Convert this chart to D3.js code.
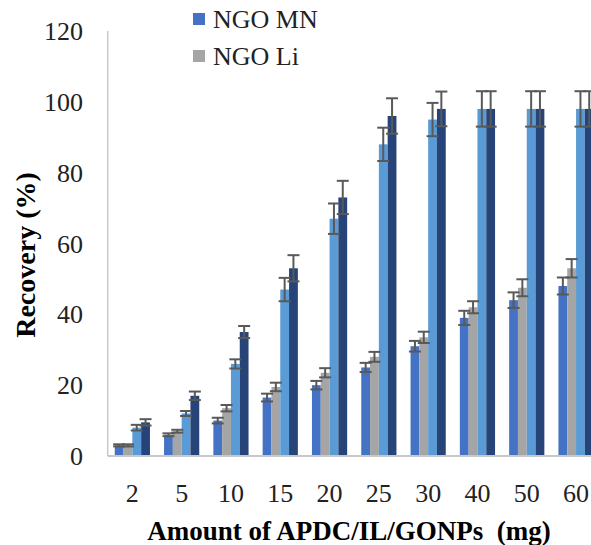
<!DOCTYPE html>
<html>
<head>
<meta charset="utf-8">
<script src="https://d3js.org/d3.v7.min.js"></script>
</head>
<body style="margin:0">
<svg id="chart" width="591" height="545"></svg>
<script>
// values
const categories = ["2", "5", "10", "15", "20", "25", "30", "40", "50", "60"];
const ngoMN   = [3, 6, 10, 16.5, 20, 25, 31, 39, 44, 48];
const ngoLi   = [3, 7, 13.5, 19.5, 23.5, 28, 33.5, 42, 47.5, 53];
const series3 = [8, 12, 26, 47, 67, 88, 95, 98, 98, 98];
const series4 = [9.5, 17, 35, 53, 73, 96, 98, 98, 98, 98];
const errMN   = [0.3, 0.4, 0.8, 1.1, 1.2, 1.3, 1.5, 2, 2.2, 2.4];
const errLi   = [0.3, 0.4, 0.9, 1.2, 1.3, 1.4, 1.6, 1.7, 2.4, 2.6];
const err3    = [0.8, 0.7, 1.3, 3.3, 4.3, 4.7, 4.7, 5, 5, 5];
const err4    = [0.9, 1.2, 1.7, 3.7, 4.7, 5, 4.9, 5, 5, 5];
const yTicks  = [0, 20, 40, 60, 80, 100, 120];
const legendNames = ["NGO MN", "NGO Li"];

const colors = ["#4472C4", "#A5A5A5", "#5B9BD5", "#264478"];
const allSeries = [ngoMN, ngoLi, series3, series4];
const allErr = [errMN, errLi, err3, err4];

const FONT = "'Liberation Serif', monospace";
const width = 591;
const svg = d3.select("#chart");

const x0 = 107.7, yTop = 31, yBase = 456;
const bandW = 49.3;

const x = d3.scaleBand()
  .domain(categories)
  .range([x0, x0 + bandW * categories.length])
  .paddingInner(0).paddingOuter(0);

const barW = 8.8;
const xs = d3.scaleBand()
  .domain(d3.range(4))
  .range([(bandW - barW * 4) / 2, (bandW + barW * 4) / 2]);

const y = d3.scaleLinear().domain([0, 120]).range([yBase, yTop]);

// y axis line
svg.append("line")
  .attr("x1", x0).attr("x2", x0)
  .attr("y1", yTop).attr("y2", yBase)
  .attr("stroke", "#C8C8C8").attr("stroke-width", 1.5);

// bars
allSeries.forEach((vals, s) => {
  svg.append("g")
    .selectAll("rect")
    .data(vals)
    .join("rect")
    .attr("x", (d, i) => x(categories[i]) + xs(s))
    .attr("width", barW)
    .attr("y", d => y(d))
    .attr("height", d => yBase - y(d))
    .attr("fill", colors[s]);
});

// error bars
allSeries.forEach((vals, s) => {
  const g = svg.append("g").attr("stroke", "#595959").attr("stroke-width", 2);
  vals.forEach((v, i) => {
    const cx = x(categories[i]) + xs(s) + barW / 2;
    const e = allErr[s][i];
    const hi = y(v + e), lo = y(v - e);
    g.append("line").attr("x1", cx).attr("x2", cx).attr("y1", hi).attr("y2", lo);
    g.append("line").attr("x1", cx - 6).attr("x2", cx + 6).attr("y1", hi).attr("y2", hi);
    g.append("line").attr("x1", cx - 6).attr("x2", cx + 6).attr("y1", lo).attr("y2", lo);
  });
});

// x axis line
svg.append("line")
  .attr("x1", x0).attr("x2", width)
  .attr("y1", yBase).attr("y2", yBase)
  .attr("stroke", "#C8C8C8").attr("stroke-width", 2);

// y tick labels
svg.append("g")
  .selectAll("text")
  .data(yTicks)
  .join("text")
  .attr("x", 83)
  .attr("y", d => y(d) + 9)
  .attr("text-anchor", "end")
  .attr("font-size", 26)
  .style("font-family", FONT)
  .attr("fill", "#222")
  .text(d => d);

// x tick labels
svg.append("g")
  .selectAll("text")
  .data(categories)
  .join("text")
  .attr("x", d => x(d) + x.bandwidth() / 2)
  .attr("y", 502)
  .attr("text-anchor", "middle")
  .attr("font-size", 26)
  .style("font-family", FONT)
  .attr("fill", "#222")
  .text(d => d);

// axis titles
svg.append("text")
  .attr("x", 349).attr("y", 540)
  .attr("text-anchor", "middle")
  .attr("font-size", 27)
  .attr("font-weight", "bold")
  .style("font-family", FONT)
  .style("white-space", "pre")
  .text("Amount of APDC/IL/GONPs  (mg)");

svg.append("text")
  .attr("transform", "translate(35,255) rotate(-90)")
  .attr("text-anchor", "middle")
  .attr("font-size", 28)
  .attr("font-weight", "bold")
  .style("font-family", FONT)
  .text("Recovery (%)");

// legend
legendNames.forEach((name, i) => {
  const cy = 19 + i * 37;
  svg.append("rect")
    .attr("x", 193).attr("y", cy - 6)
    .attr("width", 12).attr("height", 12)
    .attr("fill", colors[i]);
  svg.append("text")
    .attr("x", 213).attr("y", cy + 9)
    .attr("font-size", 26)
    .style("font-family", FONT)
    .attr("fill", "#222")
    .text(name);
});
</script>
</body>
</html>
